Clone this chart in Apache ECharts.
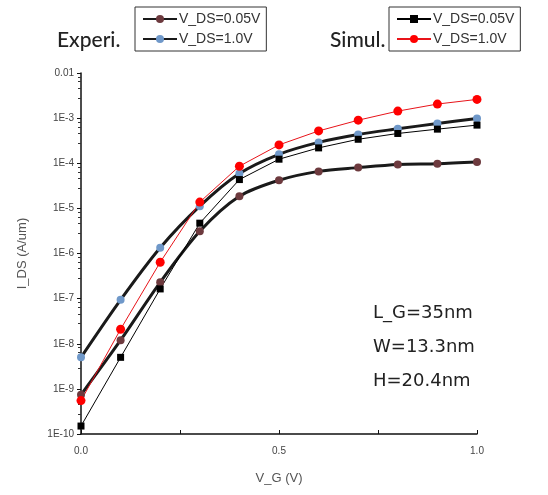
<!DOCTYPE html>
<html>
<head>
<meta charset="utf-8">
<script src="https://cdn.jsdelivr.net/npm/echarts@6/dist/echarts.min.js"></script>
<style>
  html, body { margin: 0; padding: 0; background: #fff; }
  #chart { width: 548px; height: 495px; }
</style>
</head>
<body>
<div id="chart"></div>
<script>
// gate voltage (V)
const vg = [0, 0.1, 0.2, 0.3, 0.4, 0.5, 0.6, 0.7, 0.8, 0.9, 1.0];

// experiment, I_DS (A/um)
const expLow = [7.4e-10, 1.2e-8, 2.3e-7, 3.1e-6, 1.85e-5, 4.2e-5, 6.6e-5, 8.0e-5, 9.4e-5, 9.8e-5, 1.07e-4];
const expHigh = [5e-9, 9.4e-8, 1.34e-6, 1.12e-5, 5.9e-5, 1.58e-4, 2.9e-4, 4.35e-4, 5.8e-4, 7.6e-4, 9.8e-4];

// simulation, I_DS (A/um)
const simLow = [1.5e-10, 5e-9, 1.64e-7, 4.7e-6, 4.35e-5, 1.23e-4, 2.19e-4, 3.4e-4, 4.57e-4, 5.7e-4, 7.0e-4];
const simHigh = [5.5e-10, 2.1e-8, 6.4e-7, 1.38e-5, 8.6e-5, 2.55e-4, 5.2e-4, 9.0e-4, 1.43e-3, 2.05e-3, 2.6e-3];

const xTicks = ['0.0', '0.5', '1.0'];
const notes = ['L_G=35nm', 'W=13.3nm', 'H=20.4nm'];

function pairs(ys) {
  return vg.map((x, i) => [x, ys[i]]);
}

const chart = echarts.init(document.getElementById('chart'));

function legendBox(left, names) {
  return {
    orient: 'vertical',
    left: left,
    top: 7,
    data: names,
    padding: [5, 6, 5, 7],
    itemGap: 6,
    itemWidth: 34,
    itemHeight: 10,
    borderColor: '#333',
    borderWidth: 1,
    selectedMode: false,
    formatter: name => name.replace(/^(Exp|Sim) /, ''),
    textStyle: { fontFamily: 'Liberation Sans', fontSize: 14, color: '#333', padding: [0, 0, 0, -3] }
  };
}

const option = {
  animation: false,
  backgroundColor: '#fff',
  title: [
    { text: 'Experi.', left: 52, top: 25, textStyle: { fontFamily: 'Lato', fontSize: 21, fontWeight: 500, color: '#222' } },
    { text: 'Simul.', left: 325, top: 25, textStyle: { fontFamily: 'Lato', fontSize: 21, fontWeight: 500, color: '#222' } }
  ],
  legend: [
    legendBox(135, ['Exp V_DS=0.05V', 'Exp V_DS=1.0V']),
    legendBox(389, ['Sim V_DS=0.05V', 'Sim V_DS=1.0V'])
  ],
  grid: { left: 81, right: 71, top: 73, bottom: 61 },
  xAxis: {
    type: 'value',
    min: 0,
    max: 1,
    interval: 0.25,
    name: 'V_G (V)',
    nameLocation: 'middle',
    nameGap: 38,
    nameTextStyle: { fontFamily: 'Liberation Sans', fontSize: 13, color: '#555' },
    axisLine: { lineStyle: { color: '#111', width: 1.5 } },
    axisTick: { inside: true, length: 4, lineStyle: { color: '#111' } },
    axisLabel: {
      margin: 12,
      fontFamily: 'Liberation Sans',
      fontSize: 10,
      color: '#444',
      formatter: v => {
        const s = v.toFixed(1);
        return (Math.abs(v * 2 - Math.round(v * 2)) < 1e-6 && xTicks.includes(s)) ? s : '';
      }
    },
    splitLine: { show: false }
  },
  yAxis: {
    type: 'log',
    logBase: 10,
    min: 1e-10,
    max: 0.01,
    name: 'I_DS (A/um)',
    nameLocation: 'middle',
    nameGap: 52,
    nameTextStyle: { fontFamily: 'Liberation Sans', fontSize: 13, color: '#555' },
    axisLine: { show: true, lineStyle: { color: '#111', width: 1.5 } },
    axisTick: { length: 4, lineStyle: { color: '#111' } },
    minorTick: { show: true, splitNumber: 5, length: 3, lineStyle: { color: '#333' } },
    axisLabel: {
      margin: 7,
      fontFamily: 'Liberation Sans',
      fontSize: 10,
      color: '#444',
      formatter: v => {
        const e = Math.round(Math.log10(v));
        return e === -2 ? '0.01' : '1E' + e;
      }
    },
    splitLine: { show: false }
  },
  series: [
    {
      name: 'Exp V_DS=0.05V',
      type: 'line',
      data: pairs(expLow),
      smooth: 0.3,
      symbol: 'circle',
      symbolSize: 8,
      lineStyle: { color: '#1a1a1a', width: 3 },
      itemStyle: { color: '#6d3a3e' }
    },
    {
      name: 'Exp V_DS=1.0V',
      type: 'line',
      data: pairs(expHigh),
      smooth: 0.3,
      symbol: 'circle',
      symbolSize: 8,
      lineStyle: { color: '#1a1a1a', width: 3 },
      itemStyle: { color: '#6f98c9' }
    },
    {
      name: 'Sim V_DS=0.05V',
      type: 'line',
      data: pairs(simLow),
      symbol: 'rect',
      symbolSize: 7,
      lineStyle: { color: '#000', width: 1 },
      itemStyle: { color: '#000' }
    },
    {
      name: 'Sim V_DS=1.0V',
      type: 'line',
      data: pairs(simHigh),
      symbol: 'circle',
      symbolSize: 9,
      lineStyle: { color: '#e8141a', width: 1 },
      itemStyle: { color: '#ff0000' }
    }
  ],
  graphic: notes.map((t, i) => ({
    type: 'text',
    left: 373,
    top: [304, 338, 372][i],
    style: { text: t, font: '18px "DejaVu Sans"', fill: '#222' }
  }))
};

chart.setOption(option);
</script>
</body>
</html>
